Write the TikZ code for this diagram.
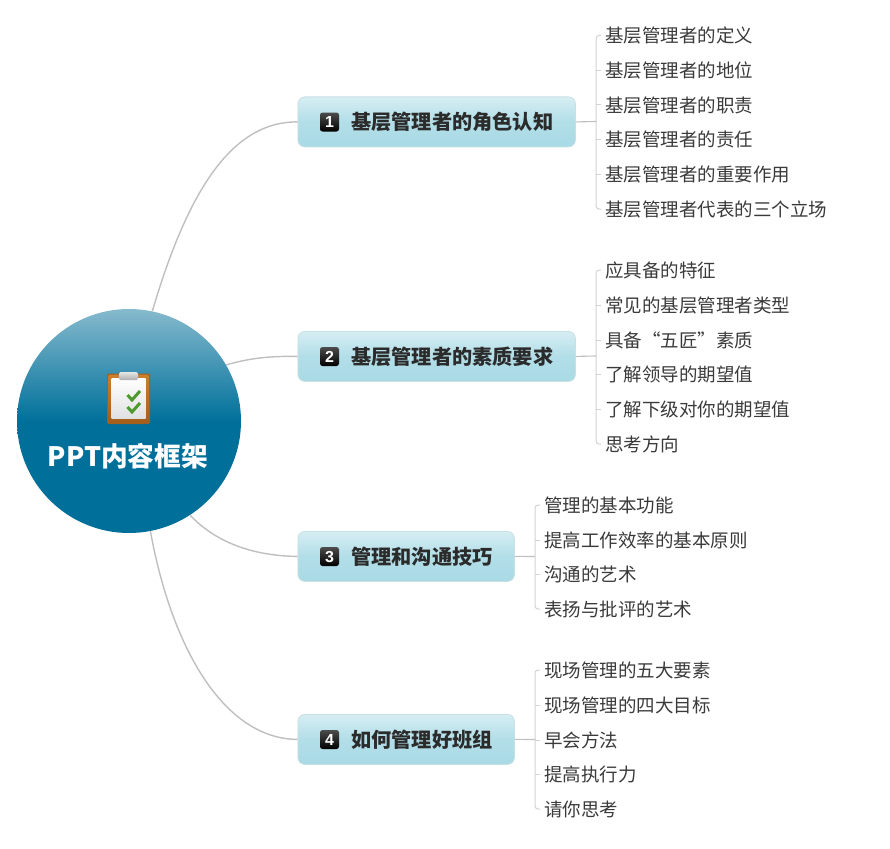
\documentclass[tikz,border=0pt]{standalone}
\usepackage{fontspec}
\setmainfont{Noto Sans CJK SC}
\newfontfamily\badgefont{Liberation Sans}
\definecolor{hubtop}{HTML}{86BACD}
\definecolor{hubdark}{HTML}{00709B}
\definecolor{boxtop}{HTML}{D6EEF3}
\definecolor{boxbot}{HTML}{A9DAE5}
\definecolor{boxline}{HTML}{C8DFE4}
\definecolor{linkgrey}{HTML}{BFBFBF}
\definecolor{barlight}{HTML}{D2D2D2}
\definecolor{inktext}{HTML}{2B2B2B}
\definecolor{leaftext}{HTML}{3A3A3A}
\definecolor{woodA}{HTML}{C9802F}
\definecolor{woodB}{HTML}{A35E1C}
\definecolor{tick}{HTML}{4E9A2E}
\tikzset{
  hub/.style={circle,minimum size=224pt,inner sep=0pt,top color=hubtop,bottom color=hubdark,middle color=hubdark,draw=none},
  hubtitle/.style={text=white,font=\fontsize{26.7}{30}\selectfont\bfseries,inner sep=0pt},
  topicbox/.style={anchor=north west,rounded corners=7pt,draw=boxline,line width=.8pt,top color=boxtop,bottom color=boxbot,middle color=boxbot!80!boxtop,minimum height=50pt,inner sep=0pt},
  topictext/.style={anchor=west,inner sep=0pt,text height=20pt,text depth=4pt,text=inktext,font=\fontsize{20.2}{24}\selectfont\bfseries},
  badge/.style={rounded corners=2.5pt,minimum size=19pt,inner sep=0pt,top color=black!70,bottom color=black,text=white,font=\badgefont\fontsize{16}{16}\selectfont\bfseries},
  leaf/.style={anchor=west,inner xsep=4pt,inner ysep=0pt,text height=18pt,text depth=4pt,text=leaftext,font=\fontsize{18.5}{22}\selectfont},
  mainlink/.style={draw=linkgrey,line width=1.4pt},
  stublink/.style={draw=linkgrey,line width=1.1pt},
  barlink/.style={draw=barlight,line width=1pt,rounded corners=3pt},
}
\begin{document}
\begin{tikzpicture}[x=1pt,y=-1pt]
\useasboundingbox (0,0) rectangle (890,848);
% hub
\node[hub] (hub) at (129,421) {};
% topic boxes
\node[topicbox,minimum width=277.5pt] (b1) at (297.5,96.5) {};
\node[topicbox,minimum width=277.5pt] (b2) at (297.5,331) {};
\node[topicbox,minimum width=216.5pt] (b3) at (297.5,531) {};
\node[topicbox,minimum width=216.5pt] (b4) at (297.5,714) {};
\node[badge] (n1) at (329.5,122) {1};
\node[badge] (n2) at (329.5,356.5) {2};
\node[badge] (n3) at (329.5,556.5) {3};
\node[badge] (n4) at (329.5,739.5) {4};
\node[topictext] (t1) at (351,121.5) {基层管理者的角色认知};
\node[topictext] (t2) at (351,356) {基层管理者的素质要求};
\node[topictext] (t3) at (351,556) {管理和沟通技巧};
\node[topictext] (t4) at (351,739) {如何管理好班组};
% hub title
\node[hubtitle] (title) at (128,456) {PPT内容框架};
% clipboard icon
\fill[woodB,rounded corners=2pt] (107,373.5) rectangle (150,424);
\shade[top color=woodA,bottom color=woodB,rounded corners=1.5pt] (108,374.5) rectangle (149,422.5);
\shade[top color=white,bottom color=black!12] (111.5,378) rectangle (145.5,418.5);
\shade[top color=black!10,bottom color=black!32,rounded corners=1.5pt] (119,372) rectangle (138,380);
\draw[tick,line width=3pt,line join=miter] (127.5,395) -- (132,400) -- (140,391);
\draw[tick,line width=3pt,line join=miter] (127.5,407) -- (132,412) -- (140,403);
% leaves group 1
\node[leaf] (a1) at (601,35.5) {基层管理者的定义};
\node[leaf] (a2) at (601,70.5) {基层管理者的地位};
\node[leaf] (a3) at (601,105) {基层管理者的职责};
\node[leaf] (a4) at (601,139.5) {基层管理者的责任};
\node[leaf] (a5) at (601,174.5) {基层管理者的重要作用};
\node[leaf] (a6) at (601,209) {基层管理者代表的三个立场};
% leaves group 2
\node[leaf] (c1) at (601,270) {应具备的特征};
\node[leaf] (c2) at (601,305) {常见的基层管理者类型};
\node[leaf] (c3) at (601,340) {具备“五匠”素质};
\node[leaf] (c4) at (601,374.5) {了解领导的期望值};
\node[leaf] (c5) at (601,409) {了解下级对你的期望值};
\node[leaf] (c6) at (601,444) {思考方向};
% leaves group 3
\node[leaf] (d1) at (540,505) {管理的基本功能};
\node[leaf] (d2) at (540,540) {提高工作效率的基本原则};
\node[leaf] (d3) at (540,574.5) {沟通的艺术};
\node[leaf] (d4) at (540,609) {表扬与批评的艺术};
% leaves group 4
\node[leaf] (e1) at (540,670) {现场管理的五大要素};
\node[leaf] (e2) at (540,705) {现场管理的四大目标};
\node[leaf] (e3) at (540,740) {早会方法};
\node[leaf] (e4) at (540,774.5) {提高执行力};
\node[leaf] (e5) at (540,809) {请你思考};
% bracket junctions
\coordinate (j1) at (596,121.5);
\coordinate (j2) at (596,356);
\coordinate (j3) at (535,556.5);
\coordinate (j4) at (535,739.5);
% main curves
\draw[mainlink] (hub.78) .. controls (188,190) and (232,121.5) .. (b1.west);
\draw[mainlink] (hub.30) .. controls (250,358) and (270,356) .. (b2.west);
\draw[mainlink] (hub.-57) .. controls (218,545) and (258,556) .. (b3.west);
\draw[mainlink] (hub.-79) .. controls (172,650) and (225,739) .. (b4.west);
% brackets
\draw[barlink] (a1.west) -| (j1) |- (a6.west);
\foreach \n in {a2,a3,a4,a5} \draw[barlink] (\n.west) -- (j1 |- \n.west);
\draw[barlink] (c1.west) -| (j2) |- (c6.west);
\foreach \n in {c2,c3,c4,c5} \draw[barlink] (\n.west) -- (j2 |- \n.west);
\draw[barlink] (d1.west) -| (j3) |- (d4.west);
\foreach \n in {d2,d3} \draw[barlink] (\n.west) -- (j3 |- \n.west);
\draw[barlink] (e1.west) -| (j4) |- (e5.west);
\foreach \n in {e2,e3,e4} \draw[barlink] (\n.west) -- (j4 |- \n.west);
% box to bracket stubs
\draw[stublink] (b1.east) -- (j1);
\draw[stublink] (b2.east) -- (j2);
\draw[stublink] (b3.east) -- (j3);
\draw[stublink] (b4.east) -- (j4);
\end{tikzpicture}
\end{document}
